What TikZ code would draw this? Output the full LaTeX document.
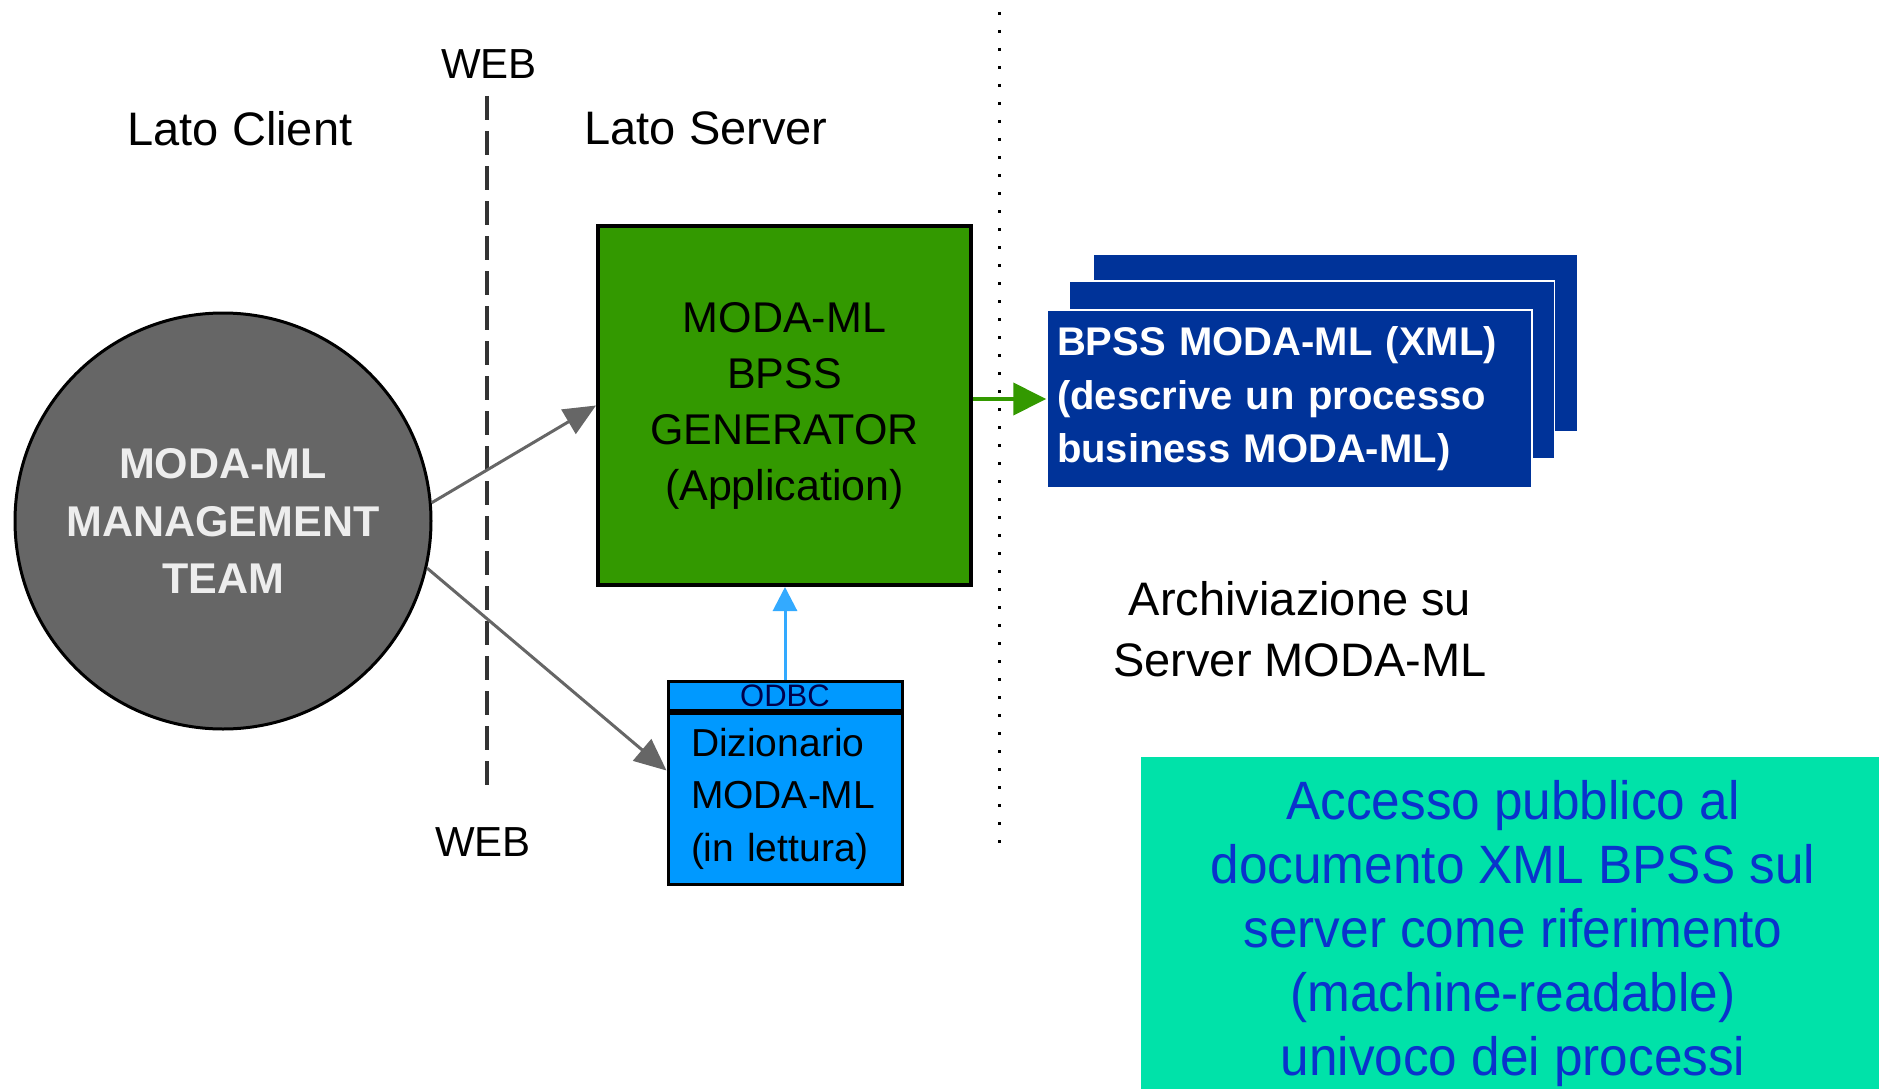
\documentclass[tikz,border=0pt]{standalone}
\usepackage{fontspec}
\setmainfont{Liberation Sans}
\newfontfamily\narrfont[FakeStretch=0.95]{Liberation Sans}
\usetikzlibrary{arrows.meta,positioning,calc}

\definecolor{gengreen}{HTML}{339900}
\definecolor{dictblue}{HTML}{0099FF}
\definecolor{cardblue}{HTML}{003399}
\definecolor{teamgray}{HTML}{666666}
\definecolor{linkblue}{HTML}{33AAFF}
\definecolor{notegreen}{HTML}{00E2A9}
\definecolor{notetext}{HTML}{0A33CC}

\begin{document}
\begin{tikzpicture}[x=1pt,y=-1pt,
	sidelabel/.style={font=\fontsize{47}{61}\selectfont},
	weblabel/.style={font=\fontsize{42}{50}\selectfont},
	card/.style={draw=white,line width=1.5pt,fill=cardblue,minimum width=485pt,minimum height=178pt},
	graylink/.style={draw=teamgray,line width=3pt,-{Triangle[length=32pt,width=28pt]}},
	]

	\useasboundingbox (0,0) rectangle (1879,1089);

	% side labels
	\node[sidelabel] (client) at (240,129) {Lato Client};
	\node[sidelabel] (server) at (706,128) {Lato Server};
	\node[weblabel] (webtop) at (489,64) {WEB};
	\node[weblabel] (webbot) at (483,842) {WEB};

	% web and server boundaries
	\draw[line width=3.5pt,black!80,dash pattern=on 24pt off 11pt] (487,96) -- (487,791);
	\draw[line width=3pt,dash pattern=on 3pt off 15pt] (999,12) -- (999,848);

	% management team
	\node[circle,draw,line width=3pt,fill=teamgray,minimum size=416pt,align=center,
		text=white!93!black,font=\bfseries\fontsize{43}{57.5}\selectfont]
		(team) at (223,521) {MODA-ML\\MANAGEMENT\\TEAM};

	% generator
	\node[draw,line width=4pt,fill=gengreen,minimum width=373pt,minimum height=359pt,
		align=center,font=\fontsize{43}{56}\selectfont]
		(gen) at (784.5,405.5) {MODA-ML\\BPSS\\GENERATOR\\(Application)};

	% dictionary
	\node[draw,line width=3pt,fill=dictblue,minimum width=234pt,minimum height=29pt,inner sep=0pt,
		text=blue!30!black,font=\fontsize{31}{31}\selectfont]
		(odbc) at (785,695.5) {ODBC};
	\node[draw,line width=3pt,fill=dictblue,minimum width=234pt,minimum height=171pt,
		inner xsep=23pt,text width=188pt,align=left,font=\fontsize{39}{52.5}\selectfont,
		below=0pt of odbc]
		(dict) {Dizionario\\MODA-ML\\(in lettura)};

	% bpss documents
	\node[card] (card3) at (1335.5,343) {};
	\node[card] (card2) at (1312,370) {};
	\node[card,inner xsep=10pt,text width=465pt,align=left,text=white,
		font=\bfseries\fontsize{40}{53.5}\selectfont]
		(card1) at (1289.5,399) {BPSS MODA-ML (XML)\\(descrive un processo\\business MODA-ML)};

	\node[align=center,font=\fontsize{47}{61}\selectfont] (archive) at (1300,629.5)
		{Archiviazione su\\Server MODA-ML};

	% public access note
	\fill[notegreen] (1141,757) rectangle (1879,1089);
	\node[align=center,text=notetext,font=\narrfont\fontsize{54}{63.8}\selectfont] (note) at (1513,933.5)
		{Accesso pubblico al\\documento XML BPSS sul\\server come riferimento\\(machine-readable)\\univoco dei processi};

	% links
	\draw[graylink] (team.5) -- (gen.west);
	\draw[graylink] (team.-13) -- ($(dict.west)+(0,-28)$);
	\draw[linkblue,line width=3pt,-{Triangle[length=24pt,width=24pt]}] (odbc.north) -- (odbc.north |- gen.south);
	\draw[gengreen,line width=4pt,-{Triangle[length=33pt,width=32pt]}] (gen.east |- card1.west) -- (card1.west);
\end{tikzpicture}
\end{document}
